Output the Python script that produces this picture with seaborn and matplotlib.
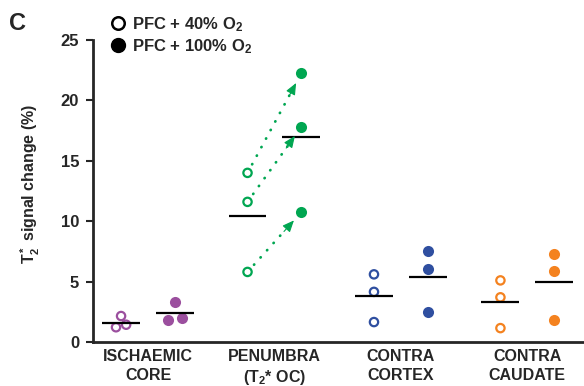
import numpy as np
import pandas as pd
import seaborn as sns
import matplotlib.pyplot as plt
from matplotlib.lines import Line2D

# Data (T2* signal change, %)
regions = ["ISCHAEMIC\nCORE", "PENUMBRA\n(T$_2$* OC)", "CONTRA\nCORTEX", "CONTRA\nCAUDATE"]
colors = ["#9b4f9e", "#00a651", "#2f4fa0", "#f4821f"]
o2_40 = [[2.15, 1.22, 1.43], [14.0, 11.6, 5.8], [5.6, 4.15, 1.65], [5.1, 3.7, 1.15]]
o2_100 = [[3.35, 1.8, 2.0], [22.25, 17.8, 10.75], [7.5, 6.05, 2.5], [7.3, 5.85, 1.8]]
# small horizontal scatter used only in the core group
jitter_40 = [[0.0, -0.04, 0.04], [0, 0, 0], [0, 0, 0], [0, 0, 0]]
jitter_100 = [[0.0, -0.055, 0.055], [0, 0, 0], [0, 0, 0], [0, 0, 0]]

rows = []
for i, r in enumerate(regions):
    for v, j in zip(o2_40[i], jitter_40[i]):
        rows.append(dict(region=i, cond="40", value=v, x=i - 0.213 + j))
    for v, j in zip(o2_100[i], jitter_100[i]):
        rows.append(dict(region=i, cond="100", value=v, x=i + 0.213 + j))
df = pd.DataFrame(rows)

sns.set_style("ticks")
plt.rcParams["font.family"] = ["Liberation Sans", "DejaVu Sans"]
plt.rcParams["font.weight"] = "bold"
plt.rcParams["mathtext.fontset"] = "custom"
plt.rcParams["mathtext.rm"] = "Liberation Sans:bold"
plt.rcParams["mathtext.it"] = "Liberation Sans:bold"
plt.rcParams["mathtext.bf"] = "Liberation Sans:bold"

fig = plt.figure(figsize=(5.84, 3.86), dpi=100)
ax = fig.add_axes([93 / 584, 44 / 386, 490 / 584, 302 / 386])
ax.set_xlim(-0.435, 3.44)
ax.set_ylim(0, 25)

for i in range(len(regions)):
    c = colors[i]
    sub = df[(df.region == i) & (df.cond == "40")]
    sns.scatterplot(data=sub, x="x", y="value", ax=ax, color=c, s=36, linewidth=1.6, legend=False)
    coll = ax.collections[-1]
    coll.set_facecolor("none")
    coll.set_edgecolor(c)
    sub2 = df[(df.region == i) & (df.cond == "100")]
    sns.scatterplot(data=sub2, x="x", y="value", ax=ax, color=c, s=64, linewidth=0, legend=False)
    # group means
    for d, side in ((sub, -1), (sub2, 1)):
        xc = i + side * 0.213
        ax.hlines(d.value.mean(), xc - 0.15, xc + 0.15, color="black", lw=1.6, zorder=1)

# paired arrows in penumbra: dotted shaft + solid head
for a, b in zip(o2_40[1], o2_100[1]):
    p0 = np.array([1 - 0.213, a])
    p1 = np.array([1 + 0.213, b])
    ax.annotate("", xy=p1, xytext=p0,
                arrowprops=dict(arrowstyle="-", color=colors[1], lw=2.0,
                                linestyle=(0, (0.1, 3.4)), capstyle="round",
                                shrinkA=7, shrinkB=16))
    d0 = ax.transData.transform(p0)
    d1 = ax.transData.transform(p1)
    u = (d1 - d0) / np.hypot(*(d1 - d0))
    q = ax.transData.inverted().transform(d1 - u * 26)
    ax.annotate("", xy=p1, xytext=q,
                arrowprops=dict(arrowstyle="-|>,head_length=0.7,head_width=0.3",
                                color=colors[1], lw=0.8, shrinkA=0, shrinkB=8))

ax.set_yticks([0, 5, 10, 15, 20, 25])
ax.set_xticks(range(len(regions)))
ax.set_xticklabels(regions, fontsize=11.5, fontweight="bold", linespacing=1.3)
ax.tick_params(axis="x", length=0, pad=5)
ax.tick_params(axis="y", length=5, width=1.5, pad=5, labelsize=12)
for t in ax.get_yticklabels():
    t.set_fontweight("bold")
ax.set_xlabel("")
ax.set_ylabel("T$_2^*$ signal change (%)", fontsize=11.5, fontweight="bold")
ax.yaxis.set_label_coords(-0.105, 0.525)
sns.despine(ax=ax)
ax.spines["left"].set_linewidth(2)
ax.spines["bottom"].set_linewidth(2)

fig.text(9 / 584, 1 - 24 / 386, "C", fontsize=17, fontweight="bold", va="center", ha="left")

handles = [Line2D([], [], marker="o", ls="", mfc="white", mec="black", mew=1.8, ms=9),
           Line2D([], [], marker="o", ls="", mfc="black", mec="black", ms=10)]
fig.legend(handles, ["PFC + 40% O$_2$", "PFC + 100% O$_2$"], loc="upper left",
           bbox_to_anchor=(110 / 584, 1 - 15 / 386), frameon=False, fontsize=12,
           handletextpad=0.35, handlelength=1.0, labelspacing=0.2, borderaxespad=0, borderpad=0)

fig.savefig("out.png", dpi=100)
